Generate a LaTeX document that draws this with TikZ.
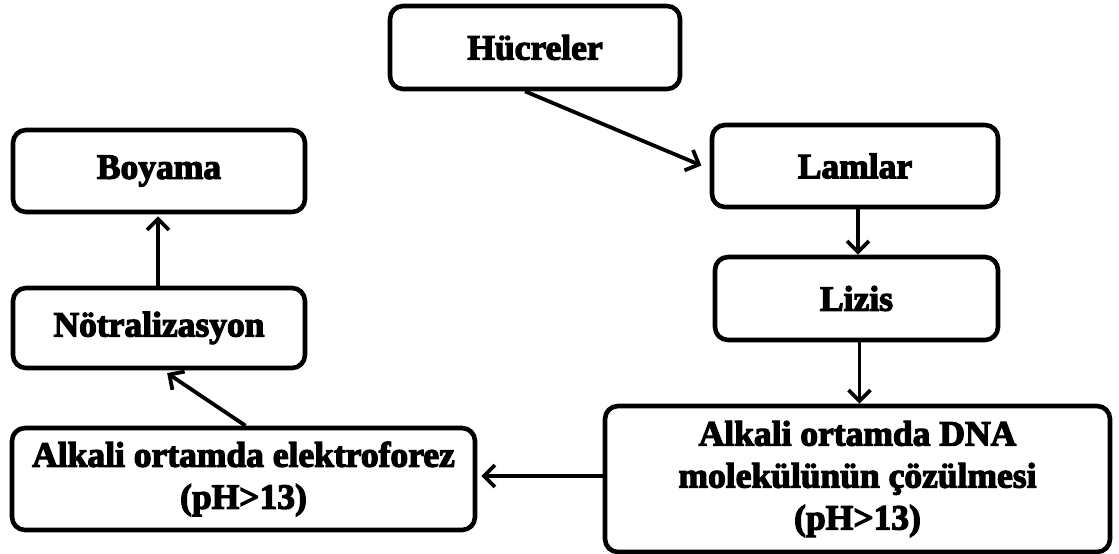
\documentclass[tikz,border=0pt]{standalone}
\usepackage{fontspec}
\setmainfont{Liberation Serif}[BoldFeatures={FakeBold=3.5}]
\usetikzlibrary{arrows.meta}
\begin{document}
\begin{tikzpicture}[x=1pt,y=-1pt,
  box/.style={draw=black, line width=4.6pt, rounded corners=13pt, fill=white,
    align=center, inner sep=0pt,
    font=\fontsize{35.5}{42}\selectfont\bfseries},
  arr/.style={line width=3.8pt, -{Straight Barb[length=11pt,width=22pt,line width=3.8pt]}}]
\useasboundingbox (0,0) rectangle (1119,554);
\fill[white] (0,0) rectangle (1119,554);
\node[box, minimum width=290pt, minimum height=83pt] (huc) at (535,47.5) {Hücreler};
\node[box, minimum width=286pt, minimum height=82pt] (lam) at (855,166) {Lamlar};
\node[box, minimum width=283pt, minimum height=83pt] (liz) at (856.5,298.5) {Lizis};
\node[box, minimum width=505pt, minimum height=146pt] (dna) at (857.5,479) {Alkali ortamda DNA\\molekülünün çözülmesi\\(pH>13)};
\node[box, minimum width=463pt, minimum height=102pt] (ele) at (243.5,479) {Alkali ortamda elektroforez\\(pH>13)};
\node[box, minimum width=292pt, minimum height=80pt] (not) at (159,328) {Nötralizasyon};
\node[box, minimum width=292pt, minimum height=82pt] (boy) at (159,171) {Boyama};
\draw[arr, shorten >=9pt] ([xshift=-10pt]huc.south) -- ([yshift=-3pt]lam.west);
\draw[arr] ([xshift=3pt]lam.south) -- ([xshift=3pt]lam.south |- liz.north);
\draw[arr] ([xshift=3pt]liz.south) -- ([xshift=3pt]liz.south |- dna.north);
\draw[arr, shorten >=4pt] ([yshift=3pt]dna.west) -- ([yshift=3pt]ele.east);
\draw[arr, shorten >=5pt] ([xshift=2pt]ele.north) -- ([xshift=4pt]not.south);
\draw[arr, shorten >=2pt] ([xshift=-1pt]not.north) -- ([xshift=-1pt]boy.south);
\end{tikzpicture}
\end{document}
